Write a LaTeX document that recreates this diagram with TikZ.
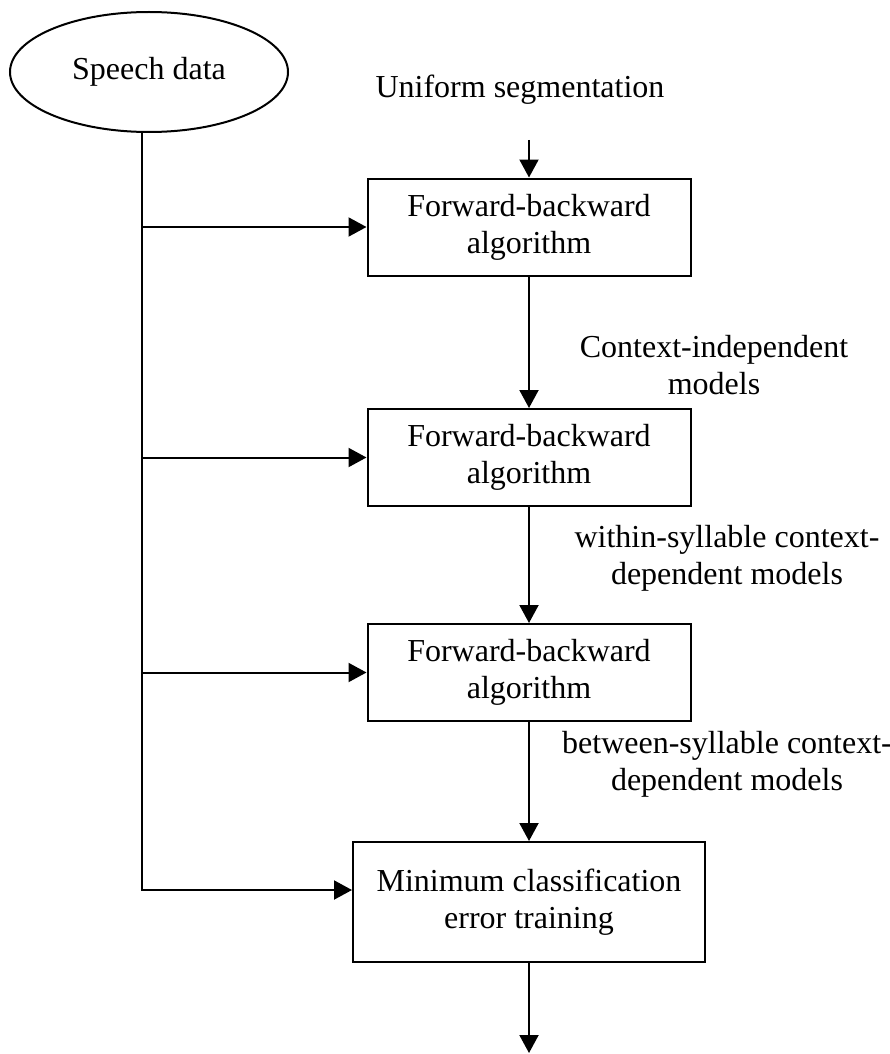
\documentclass[tikz,border=0pt]{standalone}
\usepackage{fontspec}
\setmainfont{Liberation Serif}
\usetikzlibrary{shapes.geometric, arrows.meta}

\begin{document}
\begin{tikzpicture}[x=1pt, y=-1pt,
    every node/.style={font=\fontsize{32}{37}\selectfont},
    fbbox/.style={draw, line width=2pt, align=center, inner sep=0pt},
    lbl/.style={align=center, inner sep=2pt},
    arr/.style={line width=2pt, -{Triangle[length=18pt, width=19pt]}}]

% Define the sizes
\def\boxw{323}
\def\boxh{97}
\def\colx{529}

\useasboundingbox (0,0) rectangle (890,1054);

% Speech data and the start
\node[ellipse, draw, line width=2pt, minimum width=278pt, minimum height=120pt, inner sep=0pt] (sd) at (149,72) {Speech data};
\node[lbl] (us) at (520,90) {Uniform segmentation};

% Draw the three forward-backward boxes
\foreach \i/\y in {1/227, 2/457.5, 3/672.5} {
    \node[fbbox, minimum width=\boxw pt, minimum height=\boxh pt] (b\i) at (\colx,\y) {Forward-backward\\algorithm};
}
\node[fbbox, minimum width=352pt, minimum height=120pt] (b4) at (\colx,902) {Minimum classification\\error training};

% Labels next to the arrows
\node[lbl] (l1) at (714,365) {Context-independent\\models};
\node[lbl] (l2) at (727,558) {within-syllable context-\\dependent models};
\node[lbl] (l3) at (727,764) {between-syllable context-\\dependent models};

% Arrows down the column
\draw[arr, shorten <=33pt] (us.south -| b1.north) -- (b1.north);
\draw[arr] (b1) -- (b2);
\draw[arr] (b2) -- (b3);
\draw[arr] (b3) -- (b4);
\coordinate (out) at (\colx,1053);
\draw[arr] (b4) -- (out);

% Speech data goes to every box
\coordinate (sp) at ([xshift=-7pt]sd.south);
\coordinate (in4) at ([yshift=12pt]b4.west);
\draw[arr] (sp) -- (sp |- in4) -- (in4);
\foreach \i in {1,2,3} {
    \draw[arr] (sp |- b\i.west) -- (b\i.west);
}

\end{tikzpicture}
\end{document}
